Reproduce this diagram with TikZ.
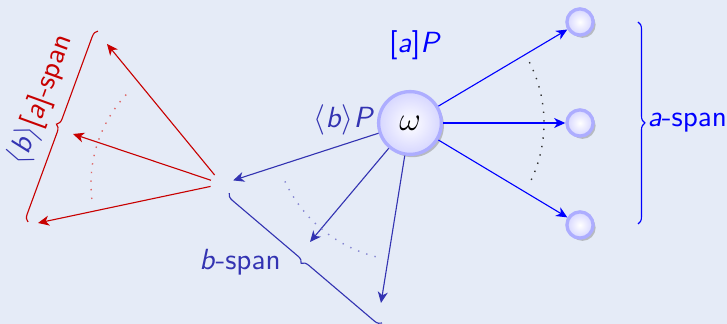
\documentclass[tikz,border=0pt]{standalone}
\usepackage{amsmath,amssymb}
\usetikzlibrary{positioning,arrows.meta,shadows,decorations.pathreplacing,calc}
\definecolor{bg}{RGB}{229,235,247}
\definecolor{struct}{RGB}{51,51,178}
\definecolor{alert}{RGB}{200,0,0}
\newcommand{\vv}[1]{\textit{#1}}

\begin{document}
\begin{tikzpicture}[
    x=0.36pt, y=0.36pt,
    font=\fontsize{10.5}{12.6}\selectfont\sffamily,
    world/.style={circle, draw=blue!32, line width=1.2pt, inner color=white, outer color=blue!16, drop shadow={shadow xshift=0.9pt, shadow yshift=-1pt, opacity=0.45}},
    arrow/.style={-{Stealth[length=4pt, width=3.6pt, inset=1.2pt]}},
    span/.style={decorate, decoration={brace, amplitude=2.5pt}},
    fan/.style={line width=0.5pt, dash pattern=on 0.5pt off 2.6pt}
]
    \fill[bg] (0,0) rectangle (727,324);
    \useasboundingbox (0,0) rectangle (727,324);

    \node[world, minimum size=22.6pt] (w) at (410,201) {\large$\omega$};
    \node[world, minimum size=9.4pt] (a1) at (580,302) {};
    \node[world, minimum size=9.4pt] (a2) at (580,201) {};
    \node[world, minimum size=9.4pt] (a3) at (580,99) {};
    \node[circle, inner sep=0pt, minimum size=8pt] (b1) at (222,140) {};
    \coordinate (b2) at (310,82);
    \coordinate (b3) at (381,21);
    \coordinate (ba1) at (107,280);
    \coordinate (ba2) at (73,190);
    \coordinate (ba3) at (38,101);

    \draw[arrow, blue] (w) -- (a1);
    \draw[arrow, blue] (w) -- (a2);
    \draw[arrow, blue] (w) -- (a3);
    \draw[arrow, struct] (w) -- (b1);
    \draw[arrow, struct] (w) -- (b2);
    \draw[arrow, struct] (w) -- (b3);
    \draw[arrow, alert] (b1) -- (ba1);
    \draw[arrow, alert] (b1) -- (ba2);
    \draw[arrow, alert] (b1) -- (ba3);

    \draw[fan, black!80] ($(w)+(27:134)$) arc[start angle=27, end angle=-27, radius=48.2pt];
    \draw[fan, struct!60] ($(w)+(205:138)$) arc[start angle=205, end angle=257, radius=49.7pt];
    \draw[fan, alert!60] ($(b1)+(137:131)$) arc[start angle=137, end angle=189, radius=47.2pt];

    \draw[span, blue] (638,302) -- (638,100);
    \draw[span, struct] (382,1) -- (229,131);
    \draw[span, alert] (28,102) -- (98,293);

    \node[blue] (ap) at (415,279) {[\vv{a}]\vv{P}};
    \node[struct] (bp) at (344,204) {$\langle$\vv{b}$\rangle$\vv{P}};
    \node[blue, anchor=west, inner sep=0pt] (aspan) at (647,201) {\vv{a}-span};
    \node[struct] (bspan) at (240,62) {\vv{b}-span};
    \node[alert, rotate=70] (baspan) at (41,224) {\textcolor{struct}{$\langle$\vv{b}$\rangle$}[\vv{a}]-span};
\end{tikzpicture}
\end{document}
